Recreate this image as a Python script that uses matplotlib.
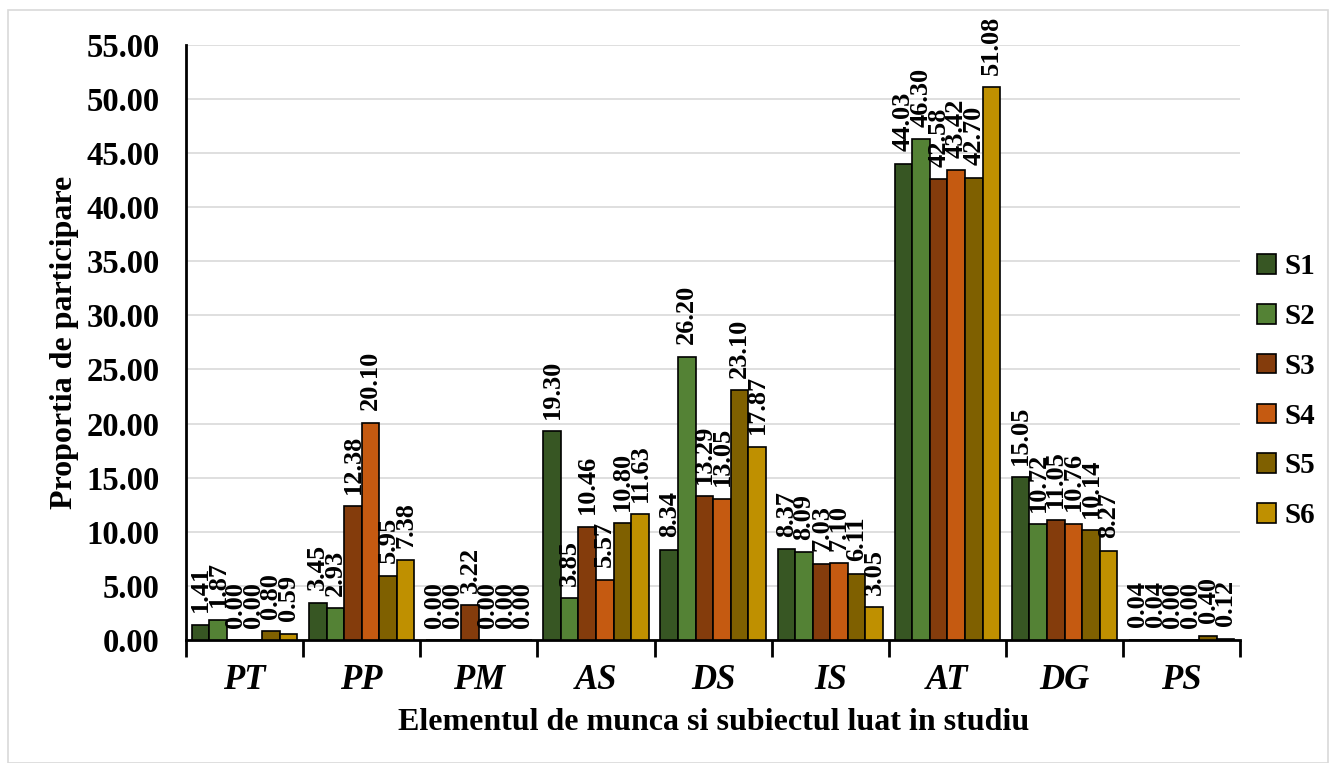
import numpy as np
import matplotlib.pyplot as plt
from matplotlib.patches import Rectangle

categories = ["PT", "PP", "PM", "AS", "DS", "IS", "AT", "DG", "PS"]
series_names = ["S1", "S2", "S3", "S4", "S5", "S6"]

s1 = [1.41, 3.45, 0.00, 19.30, 8.34, 8.37, 44.03, 15.05, 0.04]
s2 = [1.87, 2.93, 0.00, 3.85, 26.20, 8.09, 46.30, 10.72, 0.04]
s3 = [0.00, 12.38, 3.22, 10.46, 13.29, 7.03, 42.58, 11.05, 0.00]
s4 = [0.00, 20.10, 0.00, 5.57, 13.05, 7.10, 43.42, 10.76, 0.00]
s5 = [0.80, 5.95, 0.00, 10.80, 23.10, 6.11, 42.70, 10.14, 0.40]
s6 = [0.59, 7.38, 0.00, 11.63, 17.87, 3.05, 51.08, 8.27, 0.12]

colors = ["#375623", "#548235", "#843C0C", "#C55A11", "#7F6000", "#BF9000"]

plt.rcParams['font.family'] = ['Liberation Serif', 'DejaVu Serif']
plt.rcParams['font.weight'] = 'bold'

fig = plt.figure(figsize=(13.33, 7.63), dpi=100)
ax = fig.add_axes([0.1395, 0.1612, 0.791, 0.780])

# grey border around chart area
fig.patches.append(Rectangle((0.006, 0.0), 0.99, 0.987, transform=fig.transFigure,
                             fill=False, edgecolor="#d9d9d9", linewidth=1.2))

x = np.arange(len(categories))
width = 0.15
all_series = [s1, s2, s3, s4, s5, s6]

for i, vals in enumerate(all_series):
    pos = x + (i - 2.5) * width
    ax.bar(pos, vals, width, color=colors[i], edgecolor="black", linewidth=1.2,
           label=series_names[i], zorder=3)
    for px, v in zip(pos, vals):
        ax.annotate(f"{v:.2f}", (px, v), xytext=(0, 9), textcoords="offset points",
                    rotation=90, ha="center", va="bottom", fontsize=19,
                    fontweight="bold", zorder=4)

ax.set_ylim(0, 55)
ax.set_xlim(-0.5, len(categories) - 0.5)
ax.set_yticks(np.arange(0, 56, 5))
ax.set_yticklabels([f"{t:.2f}" for t in np.arange(0, 56, 5)], fontsize=23.5, fontweight="bold")
ax.yaxis.grid(True, color="#d9d9d9", linewidth=1.2, zorder=0)
ax.set_axisbelow(True)

ax.set_xticks(x)
ax.set_xticklabels(categories, fontsize=25, fontweight="bold", fontstyle="italic")
ax.set_xticks(np.arange(-0.5, len(categories)), minor=True)
ax.tick_params(axis="x", which="major", length=0, pad=17)
ax.tick_params(axis="x", which="minor", length=12, width=2)
ax.tick_params(axis="y", length=0, pad=19)

for side in ["top", "right"]:
    ax.spines[side].set_visible(False)
for side in ["left", "bottom"]:
    ax.spines[side].set_linewidth(2)

ax.set_ylabel("Proportia de participare", fontsize=23, fontweight="bold", labelpad=5)
ax.set_xlabel("Elementul de munca si subiectul luat in studiu", fontsize=23,
              fontweight="bold", labelpad=8)

ax.legend(loc="center left", bbox_to_anchor=(1.016, 0.418), frameon=False,
          prop={"size": 21, "weight": "bold"}, handlelength=0.65, handleheight=0.65,
          handletextpad=0.3, labelspacing=0.78, borderaxespad=0, borderpad=0)

fig.savefig("out.png", dpi=100)
